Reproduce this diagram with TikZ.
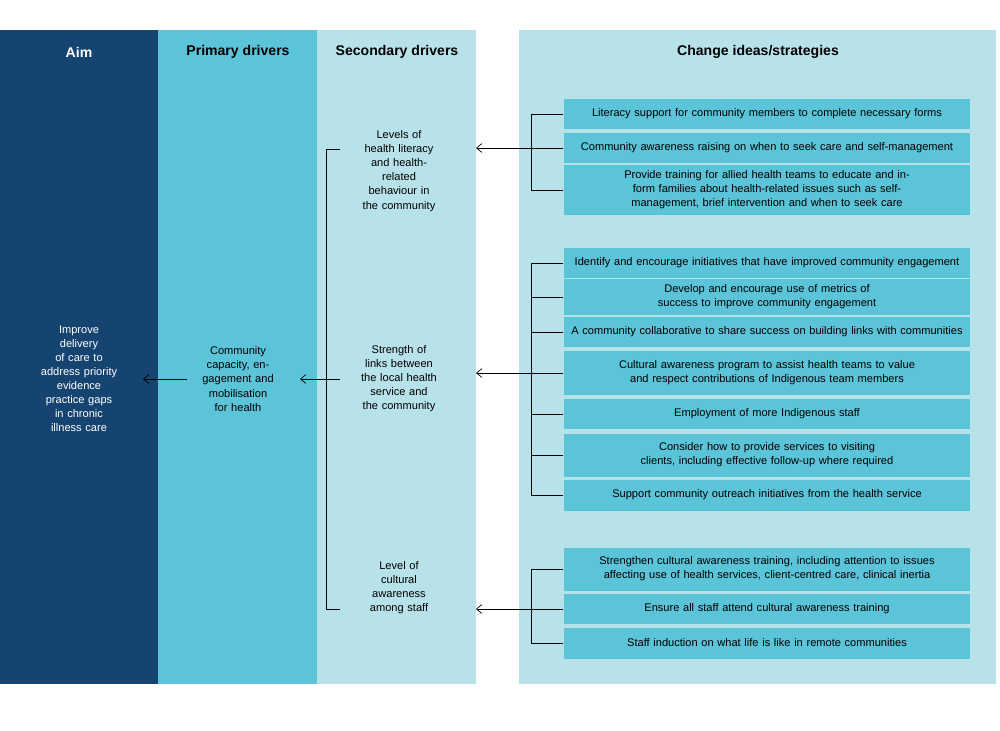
\documentclass[tikz,border=0pt]{standalone}
\usepackage{fontspec}
\setmainfont{Liberation Sans}
\usetikzlibrary{positioning,arrows.meta}
\definecolor{aimblue}{HTML}{154470}
\definecolor{primblue}{HTML}{5BC4D8}
\definecolor{secblue}{HTML}{B8E2EA}
\tikzset{
  col/.style={fill=#1,draw=none},
  head/.style={font=\fontsize{8}{10}\selectfont\bfseries,text=black},
  idea/.style={fill=primblue,draw=none,minimum width=8.12cm,text width=7.9cm,align=center,font=\fontsize{6.3}{8}\selectfont},
  drv/.style={text width=1.55cm,align=center,font=\fontsize{6.3}{8}\selectfont},
  link/.style={draw=black,line width=0.4pt},
  pt/.style={-{Straight Barb[length=3pt,width=5pt]},line width=0.4pt}
}
\begin{document}
\begin{tikzpicture}[x=0.02cm,y=-0.02cm]
  \useasboundingbox (0,0) rectangle (1000,730);
  \fill[col=aimblue] (0,30) rectangle (158,684);
  \fill[col=primblue] (158,30) rectangle (317,684);
  \fill[col=secblue] (317,30) rectangle (476,684);
  \fill[col=secblue] (519,30) rectangle (996,684);
  \node[head,text=white] (haim) at (79,52) {Aim};
  \node[head] (hprim) at (238,52) {Primary drivers};
  \node[head] (hsec) at (397,52) {Secondary drivers};
  \node[head] (hchg) at (758,52) {Change ideas/strategies};
  % drivers
  \node[drv,text=white] (aim) at (79,379) {Improve delivery of care to address priority evidence practice gaps in chronic illness care};
  \node[drv] (prim) at (238,379) {Community capacity, engagement and mobilisation for health};
  \node[drv] (s1) at (399,171) {Levels of health literacy and health-related behaviour in the community};
  \node[drv] (s2) at (399,379) {Strength of links between the local health service and the community};
  \node[drv] (s3) at (399,588) {Level of cultural awareness among staff};
  % change ideas
  \node[idea,minimum height=0.62cm] (c1) at (767,114) {Literacy support for community members to complete necessary forms};
  \node[idea,minimum height=0.6cm] (c2) at (767,148) {Community awareness raising on when to seek care and self-management};
  \node[idea,minimum height=0.86cm] (c3) at (767,190) {Provide training for allied health teams to educate and inform families about health-related issues such as self-management, brief intervention and when to seek care};
  \node[idea,minimum height=0.6cm] (c4) at (767,263) {Identify and encourage initiatives that have improved community engagement};
  \node[idea,minimum height=0.6cm] (c5) at (767,297) {Develop and encourage use of metrics of success to improve community engagement};
  \node[idea,minimum height=0.6cm] (c6) at (767,332) {A community collaborative to share success on building links with communities};
  \node[idea,minimum height=0.88cm] (c7) at (767,373) {Cultural awareness program to assist health teams to value and respect contributions of Indigenous team members};
  \node[idea,minimum height=0.6cm] (c8) at (767,414) {Employment of more Indigenous staff};
  \node[idea,minimum height=0.86cm] (c9) at (767,455) {Consider how to provide services to visiting clients, including effective follow-up where required};
  \node[idea,minimum height=0.62cm] (c10) at (767,495) {Support community outreach initiatives from the health service};
  \node[idea,minimum height=0.86cm] (c11) at (767,569) {Strengthen cultural awareness training, including attention to issues affecting use of health services, client-centred care, clinical inertia};
  \node[idea,minimum height=0.6cm] (c12) at (767,609) {Ensure all staff attend cultural awareness training};
  \node[idea,minimum height=0.62cm] (c13) at (767,643) {Staff induction on what life is like in remote communities};
  % brackets
  \coordinate (e1) at (476,148);
  \coordinate (e2) at (476,373);
  \coordinate (e3) at (476,609);
  \coordinate (pe) at (300,379);
  \coordinate (ps) at (187,379);
  \coordinate (ae) at (143,379);
  \draw[link] (c1.west) -- ++(-32,0) coordinate (b1) |- (c3.west);
  \draw[link] (c2.west) -- (c2.west -| b1);
  \draw[pt] (c2.west) -- (e1);
  \draw[link] (c4.west) -- ++(-32,0) coordinate (b2) |- (c10.west);
  \foreach \n in {c5,c6,c7,c8,c9} \draw[link] (\n.west) -- (\n.west -| b2);
  \draw[pt] (c7.west) -- (e2);
  \draw[link] (c11.west) -- ++(-32,0) coordinate (b3) |- (c13.west);
  \draw[link] (c12.west) -- (c12.west -| b3);
  \draw[pt] (c12.west) -- (e3);
  \draw[link] (340,149) -- (326,149) coordinate (k) -- (326,609) -- (340,609);
  \draw[link] (326,379) -- (340,379);
  \draw[pt] (326,379) -- (pe);
  \draw[pt] (ps) -- (ae);
\end{tikzpicture}
\end{document}
